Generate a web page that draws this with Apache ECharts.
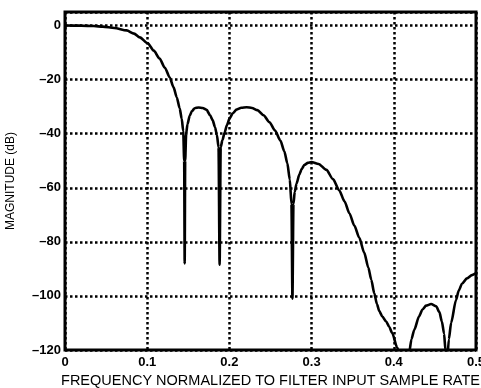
<!DOCTYPE html>
<html>
<head>
<meta charset="utf-8">
<script src="https://cdn.jsdelivr.net/npm/echarts@6/dist/echarts.min.js"></script>
<style>
html,body{margin:0;padding:0;background:#fff;}
#chart{width:481px;height:388px;}
</style>
</head>
<body>
<div id="chart"></div>
<script>
// Normalized frequency (x) and magnitude in dB (y)
var freq = [0, 0.02, 0.035, 0.046, 0.06, 0.075, 0.084, 0.091, 0.1007, 0.108, 0.115, 0.1215, 0.1274, 0.132, 0.136, 0.1395, 0.142, 0.1438, 0.1450, 0.1456, 0.1462,
  0.1474, 0.149, 0.1517, 0.1545, 0.1578, 0.1626, 0.1675, 0.1723, 0.1765, 0.1796, 0.1825, 0.1848, 0.1868, 0.1881, 0.1894,
  0.1915, 0.1942, 0.197, 0.2002, 0.204, 0.2087, 0.2145, 0.2209, 0.2275, 0.234, 0.2415, 0.2488, 0.2555, 0.262, 0.2668, 0.2705, 0.2735, 0.2755, 0.2767, 0.2779,
  0.2795, 0.2816, 0.2852, 0.2880, 0.2913, 0.2955, 0.2998, 0.3085, 0.318, 0.326, 0.3337, 0.3400, 0.3459, 0.352, 0.358, 0.364, 0.3690, 0.3726, 0.3762,
  0.3795, 0.3823, 0.3860, 0.3908, 0.3945, 0.398, 0.404, 0.4066, 0.412, 0.4187, 0.4215, 0.4248, 0.4308, 0.4350, 0.4393, 0.4454, 0.4515,
  0.4555, 0.4585, 0.4612, 0.4628, 0.4645, 0.4670, 0.4697, 0.4757, 0.479, 0.483, 0.489, 0.4951, 0.5];
var magnitude = [0, -0.05, -0.2, -0.4, -0.9, -1.8, -3.0, -4.4, -6.6, -9.3, -12.2, -15.6, -19.2, -22.8, -26.6, -30.6, -34.5, -39, -50, -88, -50,
  -40, -36.5, -33.4, -31.6, -30.6, -30.3, -30.5, -31.2, -33.2, -35, -37.6, -40.5, -45, -88.5, -45,
  -42.4, -39.6, -36.8, -34.4, -32.5, -31.1, -30.4, -30.2, -30.5, -31.3, -33.2, -35.8, -38.8, -42.5, -46.5, -51, -57, -66, -101, -66,
  -61.5, -58.5, -55, -53, -51.5, -50.8, -50.5, -51.2, -53.4, -56.8, -61, -65, -69.4, -74, -78.5, -84, -89.5, -94, -99,
  -103, -105.6, -107.6, -109.5, -111.5, -113.7, -119, -121, -135, -121, -116, -112.6, -107.5, -105, -103.6, -103, -103.8,
  -106, -109.5, -114, -120, -126, -116, -110, -101.5, -98, -95.5, -93.5, -92.3, -91.6];
var xTicks = [0, 0.1, 0.2, 0.3, 0.4, 0.5];
var yTicks = [0, -20, -40, -60, -80, -100, -120];
var xTitle = 'FREQUENCY NORMALIZED TO FILTER INPUT SAMPLE RATE';
var yTitle = 'MAGNITUDE (dB)';

var pts = freq.map(function (f, i) { return [f, magnitude[i]]; });
var chart = echarts.init(document.getElementById('chart'), null, {renderer: 'canvas'});
var gridLine = {show: true, lineStyle: {color: '#000', width: 2.5, type: [2.5, 2.5]}};
chart.setOption({
  animation: false,
  backgroundColor: '#fff',
  grid: {left: 65, top: 12, right: 5, bottom: 38, show: true, borderColor: '#000', borderWidth: 3, backgroundColor: 'transparent',
    containLabel: false, outerBoundsMode: 'none'},
  xAxis: {
    type: 'value', min: 0, max: 0.5, interval: 0.1,
    name: xTitle, nameLocation: 'middle', nameGap: 23,
    nameTextStyle: {fontFamily: 'Liberation Sans', fontSize: 14.5, color: '#000'},
    axisLine: {show: false}, axisTick: {show: false},
    splitLine: gridLine,
    axisLabel: {
      margin: 6, color: '#000', fontFamily: 'Liberation Sans', fontWeight: 'bold', fontSize: 13,
      formatter: function (v) {
        for (var i = 0; i < xTicks.length; i++) { if (Math.abs(v - xTicks[i]) < 1e-9) return v === 0 ? '0' : xTicks[i].toFixed(1); }
        return '';
      }
    }
  },
  yAxis: {
    type: 'value', min: -120, max: 5, interval: 20,
    name: yTitle, nameLocation: 'middle', nameGap: 48,
    nameTextStyle: {fontFamily: 'Liberation Sans', fontSize: 12, color: '#000'},
    axisLine: {show: false}, axisTick: {show: false},
    splitLine: gridLine,
    axisLabel: {
      margin: 4, color: '#000', fontFamily: 'Liberation Sans', fontWeight: 'bold', fontSize: 13,
      showMaxLabel: false,
      formatter: function (v) {
        if (yTicks.indexOf(v) < 0) return '';
        return v < 0 ? '\u2013' + (-v) : '0';
      }
    }
  },
  series: [{
    type: 'line', data: pts, showSymbol: false, symbol: 'none', clip: true,
    smooth: 0.25, smoothMonotone: 'x',
    lineStyle: {color: '#000', width: 2.6}, z: 5
  }]
});
</script>
</body>
</html>
